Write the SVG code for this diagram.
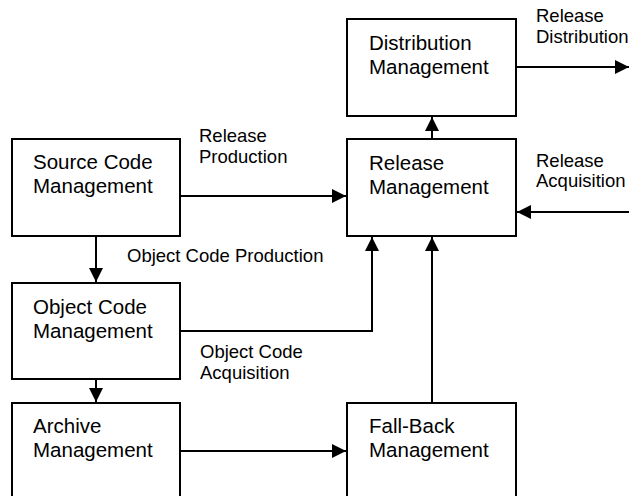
<svg xmlns="http://www.w3.org/2000/svg" width="629" height="496" viewBox="0 0 629 496">
<style>
.box{fill:#fff;stroke:#000;stroke-width:2}
.nt{font-family:"Liberation Sans",Arial,sans-serif;font-size:20.5px;fill:#000}
.lt{font-family:"Liberation Sans",Arial,sans-serif;font-size:18.5px;fill:#000}
.c{fill:none;stroke:#000;stroke-width:2;marker-end:url(#ah)}
</style>
<defs>
<marker id="ah" markerUnits="userSpaceOnUse" markerWidth="14" markerHeight="14" viewBox="0 0 12 12" refX="12" refY="6" orient="auto">
<path d="M0,0 L12,6 L0,12 Z" fill="#000"/>
</marker>
</defs>
<rect width="629" height="496" fill="#fff"/>
<g id="connectors">
<line class="c" x1="180" y1="196" x2="346" y2="196"/>
<line class="c" x1="96" y1="236" x2="96" y2="282"/>
<polyline class="c" points="180,331 372,331 372,237"/>
<line class="c" x1="96" y1="379" x2="96" y2="402"/>
<line class="c" x1="180" y1="451" x2="346" y2="451"/>
<line class="c" x1="432" y1="403" x2="432" y2="237"/>
<line class="c" x1="432" y1="139" x2="432" y2="117"/>
<line class="c" x1="516" y1="67" x2="629" y2="67"/>
<line class="c" x1="629" y1="212" x2="517" y2="212"/>
<text class="lt" x="199" y="142">Release</text>
<text class="lt" x="199" y="163">Production</text>
<text class="lt" x="127" y="262">Object Code Production</text>
<text class="lt" x="200" y="358">Object Code</text>
<text class="lt" x="200" y="379">Acquisition</text>
<text class="lt" x="536" y="22">Release</text>
<text class="lt" x="536" y="43">Distribution</text>
<text class="lt" x="536" y="167">Release</text>
<text class="lt" x="536" y="187">Acquisition</text>
</g>
<g id="distribution">
<rect class="box" x="347" y="19" width="169" height="97"/>
<text class="nt" x="369" y="50">Distribution</text>
<text class="nt" x="369" y="74">Management</text>
</g>
<g id="release">
<rect class="box" x="347" y="139" width="169" height="97"/>
<text class="nt" x="369" y="170">Release</text>
<text class="nt" x="369" y="194">Management</text>
</g>
<g id="source">
<rect class="box" x="12" y="139" width="168" height="97"/>
<text class="nt" x="33" y="169">Source Code</text>
<text class="nt" x="33" y="193">Management</text>
</g>
<g id="object">
<rect class="box" x="12" y="283" width="168" height="96"/>
<text class="nt" x="33" y="314">Object Code</text>
<text class="nt" x="33" y="338">Management</text>
</g>
<g id="archive">
<rect class="box" x="12" y="403" width="168" height="110"/>
<text class="nt" x="33" y="433">Archive</text>
<text class="nt" x="33" y="457">Management</text>
</g>
<g id="fallback">
<rect class="box" x="347" y="403" width="169" height="110"/>
<text class="nt" x="369" y="433">Fall-Back</text>
<text class="nt" x="369" y="457">Management</text>
</g>
</svg>
